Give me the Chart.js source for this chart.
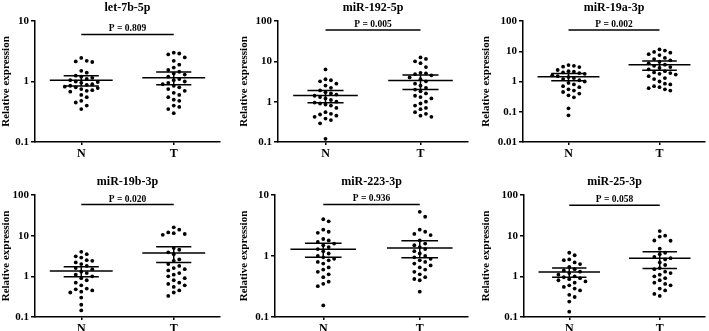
<!DOCTYPE html>
<html>
<head>
<meta charset="utf-8">
<script src="https://cdn.jsdelivr.net/npm/chart.js@4.4.1/dist/chart.umd.min.js"></script>
<style>
  html, body { margin: 0; padding: 0; background: #fff; width: 709px; height: 331px; overflow: hidden; }
  body { position: relative; }
  canvas { position: absolute; }
</style>
</head>
<body>
<script>
// ---- data ----
const groups = ['N', 'T'];
const titles = ['let-7b-5p', 'miR-192-5p', 'miR-19a-3p', 'miR-19b-3p', 'miR-223-3p', 'miR-25-3p'];
const pLabels = ['P = 0.809', 'P = 0.005', 'P = 0.002', 'P = 0.020', 'P = 0.936', 'P = 0.058'];
const yTicks = [[0.1, 1, 10], [0.1, 1, 10, 100], [0.01, 0.1, 1, 10, 100], [0.1, 1, 10, 100], [0.1, 1, 10], [0.1, 1, 10, 100]];
const barLevel = [6, 60, 50, 58, 7, 56];

const nValues = [
  [2.45, 2.2, 2.1, 2.15, 1.5, 1.4, 1.25, 1.2, 1.15, 1.1, 1.05, 1.0, 0.98, 0.95, 0.9, 0.88, 0.85, 0.82, 0.8, 0.78, 0.75, 0.72, 0.7, 0.68, 0.6, 0.55, 0.48, 0.45, 0.4, 0.35],
  [6.3, 3.6, 3.4, 3.2, 2.8, 2.5, 2.2, 1.9, 1.7, 1.6, 1.5, 1.4, 1.3, 1.2, 1.1, 1.0, 0.95, 0.9, 0.85, 0.8, 0.7, 0.55, 0.5, 0.48, 0.45, 0.42, 0.38, 0.35, 0.29, 0.12],
  [3.5, 3.3, 3.1, 3.0, 2.4, 2.2, 2.1, 2.0, 1.9, 1.8, 1.6, 1.5, 1.4, 1.3, 1.2, 1.1, 1.0, 0.9, 0.8, 0.7, 0.65, 0.55, 0.5, 0.45, 0.4, 0.35, 0.3, 0.13, 0.076],
  [4.0, 3.5, 3.1, 2.9, 2.5, 2.4, 2.2, 2.0, 1.8, 1.6, 1.5, 1.3, 1.2, 1.1, 1.0, 0.9, 0.8, 0.7, 0.6, 0.5, 0.48, 0.45, 0.42, 0.4, 0.3, 0.2, 0.145],
  [4.0, 3.7, 2.7, 2.5, 2.4, 1.9, 1.8, 1.7, 1.6, 1.5, 1.4, 1.3, 1.2, 1.1, 1.0, 0.95, 0.9, 0.85, 0.8, 0.75, 0.65, 0.6, 0.55, 0.5, 0.45, 0.38, 0.35, 0.32, 0.155],
  [3.8, 3.3, 2.6, 2.5, 2.2, 2.0, 1.7, 1.5, 1.4, 1.3, 1.2, 1.1, 1.0, 0.95, 0.9, 0.85, 0.8, 0.75, 0.7, 0.6, 0.55, 0.5, 0.45, 0.35, 0.31, 0.24, 0.135]
];
const tValues = [
  [3.0, 2.9, 2.8, 2.5, 2.2, 1.9, 1.7, 1.55, 1.45, 1.35, 1.3, 1.2, 1.1, 1.05, 1.0, 0.95, 0.9, 0.85, 0.8, 0.75, 0.7, 0.65, 0.6, 0.55, 0.5, 0.48, 0.4, 0.38, 0.35, 0.3],
  [12.5, 11.5, 10, 9, 7.2, 5.2, 5.0, 4.8, 4.5, 4.0, 3.6, 3.2, 2.8, 2.5, 2.2, 2.0, 1.8, 1.6, 1.4, 1.3, 1.2, 1.0, 0.9, 0.8, 0.7, 0.65, 0.55, 0.5, 0.45, 0.42],
  [11.5, 10.5, 9.5, 9, 8, 7.5, 6, 5.5, 5, 4.5, 4, 3.6, 3.3, 3.0, 2.8, 2.5, 2.2, 2.0, 1.9, 1.8, 1.7, 1.5, 1.3, 1.2, 1.0, 0.85, 0.8, 0.7, 0.65, 0.6, 0.55, 0.5],
  [16, 14, 12, 11.5, 11, 10.5, 5, 4.5, 3.9, 3.5, 2.6, 2.4, 2.0, 1.8, 1.6, 1.5, 1.4, 1.2, 1.1, 1.0, 0.9, 0.8, 0.7, 0.65, 0.6, 0.55, 0.45, 0.4, 0.33],
  [5.3, 4.4, 2.7, 2.5, 2.3, 2.2, 1.8, 1.6, 1.5, 1.4, 1.3, 1.2, 1.1, 1.0, 0.95, 0.9, 0.85, 0.8, 0.75, 0.7, 0.65, 0.6, 0.55, 0.5, 0.45, 0.42, 0.4, 0.26],
  [13, 10, 9.5, 7.6, 7.5, 4.8, 3.8, 3.5, 3.0, 2.8, 2.6, 2.2, 1.9, 1.6, 1.5, 1.3, 1.2, 1.1, 1.0, 0.9, 0.8, 0.7, 0.65, 0.6, 0.5, 0.45, 0.37, 0.33]
];
// mean and SEM bounds, [N, T]
const means = [[1.05, 1.15], [1.43, 3.35], [1.43, 3.55], [1.35, 3.75], [1.29, 1.35], [1.28, 2.8]];
const semHigh = [[1.25, 1.44], [1.9, 4.6], [1.84, 4.8], [1.73, 5.35], [1.62, 1.77], [1.6, 4.0]];
const semLow = [[0.84, 0.88], [0.94, 2.0], [1.05, 2.35], [0.98, 2.2], [0.95, 0.94], [0.95, 1.55]];

// ---- panel layout (canvas box, axis sizes) ----
const panels = [
  { left: 0, top: 0, width: 230, yWidth: 35, rightPad: 10, xHeight: 23 },
  { left: 238, top: 0, width: 234, yWidth: 40, rightPad: 2, xHeight: 23 },
  { left: 480, top: 0, width: 229, yWidth: 43, rightPad: 1, xHeight: 23 },
  { left: 0, top: 174, width: 230, yWidth: 35, rightPad: 10, xHeight: 22 },
  { left: 238, top: 174, width: 234, yWidth: 37, rightPad: 2, xHeight: 22 },
  { left: 480, top: 174, width: 229, yWidth: 44, rightPad: 1, xHeight: 22 }
];
const HEIGHT = 165;
const TOP_PAD = 21;
const FONT = '"Liberation Serif", "Times New Roman", serif';
const DOT = 5.5;

// simple beeswarm: spread points sideways so they don't overlap
function swarm(values, center, pxPerDecade, pxPerUnit) {
  const placed = [];
  return values.slice().sort((a, b) => b - a).map((v) => {
    const py = Math.log10(v) * pxPerDecade;
    for (let k = 0; k < 60; k++) {
      const dx = k === 0 ? 0 : Math.ceil(k / 2) * DOT * (k % 2 ? 1 : -1);
      if (placed.every((p) => Math.hypot(p[0] - dx, p[1] - py) >= DOT)) {
        placed.push([dx, py]);
        return { x: center + dx / pxPerUnit, y: v };
      }
    }
    return { x: center, y: v };
  });
}

function meanSem(center, mean, hi, lo) {
  const gap = { x: center, y: null };
  return [
    { x: center - 0.34, y: mean }, { x: center + 0.34, y: mean }, gap,
    { x: center - 0.19, y: hi }, { x: center + 0.19, y: hi }, gap,
    { x: center - 0.19, y: lo }, { x: center + 0.19, y: lo }, gap,
    { x: center, y: lo }, { x: center, y: hi }
  ];
}

const panelText = {
  id: 'panelText',
  afterDraw(chart, args, opts) {
    const { ctx, chartArea, scales } = chart;
    ctx.save();
    ctx.fillStyle = '#000';
    ctx.textAlign = 'center';
    ctx.textBaseline = 'middle';
    ctx.font = 'bold 12px ' + FONT;
    ctx.fillText(opts.title, (chartArea.left + chartArea.right) / 2, 8);
    ctx.font = 'bold 9.5px ' + FONT;
    ctx.textBaseline = 'alphabetic';
    ctx.fillText(opts.p, scales.x.getPixelForValue(1.5), scales.y.getPixelForValue(opts.bar) - 3);
    ctx.restore();
  }
};

panels.forEach((pl, i) => {
  const canvas = document.createElement('canvas');
  canvas.width = pl.width;
  canvas.height = HEIGHT;
  canvas.style.left = pl.left + 'px';
  canvas.style.top = pl.top + 'px';
  document.body.appendChild(canvas);

  const ticks = yTicks[i];
  const plotH = HEIGHT - TOP_PAD - pl.xHeight;
  const plotW = pl.width - pl.yWidth - pl.rightPad;
  const pxPerDecade = plotH / (Math.log10(ticks[ticks.length - 1]) - Math.log10(ticks[0]));
  const pxPerUnit = plotW / 2;

  const lineStyle = { type: 'scatter', showLine: true, pointRadius: 0, borderColor: '#000', borderWidth: 1.5, spanGaps: false };

  new Chart(canvas, {
    type: 'scatter',
    data: {
      datasets: [
        { data: swarm(nValues[i], 1, pxPerDecade, pxPerUnit), pointRadius: 1.9, backgroundColor: '#000', borderWidth: 0 },
        { data: swarm(tValues[i], 2, pxPerDecade, pxPerUnit), pointRadius: 1.9, backgroundColor: '#000', borderWidth: 0 },
        { ...lineStyle, data: meanSem(1, means[i][0], semHigh[i][0], semLow[i][0]) },
        { ...lineStyle, data: meanSem(2, means[i][1], semHigh[i][1], semLow[i][1]) },
        { ...lineStyle, data: [{ x: 1, y: barLevel[i] }, { x: 2, y: barLevel[i] }] }
      ]
    },
    options: {
      responsive: false,
      animation: false,
      devicePixelRatio: 1,
      layout: { padding: { top: TOP_PAD, right: pl.rightPad, left: 0, bottom: 0 } },
      plugins: {
        legend: { display: false },
        tooltip: { enabled: false },
        panelText: { title: titles[i], p: pLabels[i], bar: barLevel[i] }
      },
      scales: {
        x: {
          type: 'linear',
          min: 0.5,
          max: 2.5,
          afterBuildTicks: (s) => { s.ticks = [{ value: 1 }, { value: 2 }]; },
          afterFit: (s) => { s.height = pl.xHeight; },
          grid: { drawOnChartArea: false, drawTicks: true, tickLength: 3, color: '#000', lineWidth: 1.5 },
          border: { display: true, color: '#000', width: 1.5 },
          ticks: {
            color: '#000',
            padding: 2,
            maxRotation: 0,
            font: { family: FONT, size: 12, weight: 'bold' },
            callback: (v) => groups[v - 1]
          }
        },
        y: {
          type: 'logarithmic',
          min: ticks[0],
          max: ticks[ticks.length - 1],
          afterBuildTicks: (s) => { s.ticks = ticks.map((v) => ({ value: v, major: true })); },
          afterFit: (s) => { s.width = pl.yWidth; },
          grid: { drawOnChartArea: false, drawTicks: true, tickLength: 4, color: '#000', lineWidth: 1.5 },
          border: { display: true, color: '#000', width: 1.5 },
          title: {
            display: true,
            text: 'Relative expression',
            color: '#000',
            padding: 0,
            font: { family: FONT, size: 11, weight: 'bold' }
          },
          ticks: {
            color: '#000',
            padding: 2,
            font: { family: FONT, size: 11, weight: 'bold' },
            callback: (v) => String(v)
          }
        }
      }
    },
    plugins: [panelText]
  });
});
</script>
</body>
</html>
